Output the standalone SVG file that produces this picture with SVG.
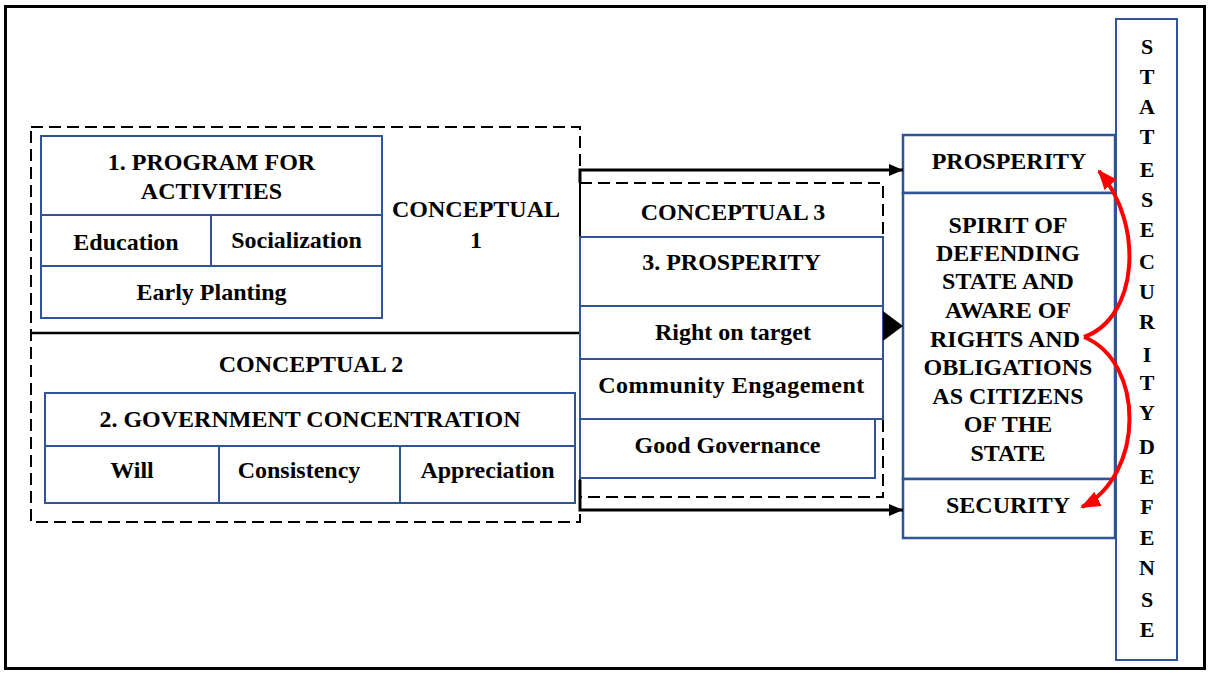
<svg xmlns="http://www.w3.org/2000/svg" width="1211" height="673" viewBox="0 0 1211 673">
<style>
text{font-family:"Liberation Serif","Times New Roman",serif;font-weight:bold;fill:#000;text-anchor:middle}
.t{font-size:24px}
.v{font-size:22px}
.box{fill:#fff;stroke:#2f5597;stroke-width:2}
.rbox{fill:#fff;stroke:#2f5597;stroke-width:2.5}
.dash{fill:none;stroke:#000;stroke-width:2;stroke-dasharray:12 6}
.conn{fill:none;stroke:#000;stroke-width:3}
.red{fill:none;stroke:#ff0000;stroke-width:4}
</style>
<defs>
<marker id="ah" markerWidth="14" markerHeight="12" refX="14" refY="6" orient="auto" markerUnits="userSpaceOnUse">
<path d="M0,0 L14,6 L0,12 Z" fill="#000"/>
</marker>
<marker id="rh" markerWidth="20" markerHeight="16" refX="18" refY="8" orient="auto" markerUnits="userSpaceOnUse">
<path d="M0,0 L20,8 L0,16 Z" fill="#ff0000"/>
</marker>
</defs>
<rect x="0" y="0" width="1211" height="673" fill="#fff"/>
<rect x="5.5" y="6.5" width="1199" height="662" fill="none" stroke="#000" stroke-width="3"/>

<g id="conceptual12">
<rect class="dash" x="31" y="127" width="549" height="395"/>
<line x1="31" y1="333" x2="580" y2="333" stroke="#000" stroke-width="2.5"/>
</g>

<g id="program">
<rect class="box" x="41" y="136" width="341" height="79"/>
<text class="t" x="211.5" y="170">1. PROGRAM FOR</text>
<text class="t" x="211.5" y="199">ACTIVITIES</text>
</g>
<g id="education">
<rect class="box" x="41" y="215" width="170" height="51"/>
<text class="t" x="126" y="250">Education</text>
</g>
<g id="socialization">
<rect class="box" x="211" y="215" width="171" height="51"/>
<text class="t" x="296.5" y="248">Socialization</text>
</g>
<g id="early-planting">
<rect class="box" x="41" y="266" width="341" height="52"/>
<text class="t" x="211.5" y="300">Early Planting</text>
</g>
<g id="conceptual1-label">
<text class="t" x="476" y="217">CONCEPTUAL</text>
<text class="t" x="476" y="248">1</text>
</g>

<g id="conceptual2-label">
<text class="t" x="311" y="372">CONCEPTUAL 2</text>
</g>
<g id="government">
<rect class="box" x="45" y="393" width="530" height="53"/>
<text class="t" x="310" y="427">2. GOVERNMENT CONCENTRATION</text>
</g>
<g id="will">
<rect class="box" x="45" y="446" width="174" height="57"/>
<text class="t" x="132" y="478">Will</text>
</g>
<g id="consistency">
<rect class="box" x="219" y="446" width="181" height="57"/>
<text class="t" x="299" y="478">Consistency</text>
</g>
<g id="appreciation">
<rect class="box" x="400" y="446" width="175" height="57"/>
<text class="t" x="487.5" y="478">Appreciation</text>
</g>

<g id="conceptual3">
<rect class="dash" x="580" y="183" width="303" height="314"/>
<text class="t" x="733" y="220">CONCEPTUAL 3</text>
</g>
<g id="prosperity3">
<rect class="box" x="580" y="237" width="303" height="69"/>
<text class="t" x="731.5" y="270">3. PROSPERITY</text>
</g>
<g id="right-on-target">
<rect class="box" x="580" y="306" width="303" height="53"/>
<text class="t" x="733" y="340">Right on target</text>
</g>
<g id="community">
<rect class="box" x="580" y="359" width="303" height="60"/>
<text class="t" x="731.5" y="393" letter-spacing="0.5">Community Engagement</text>
</g>
<g id="good-governance">
<rect class="box" x="580" y="419" width="295" height="59"/>
<text class="t" x="727.5" y="453">Good Governance</text>
</g>

<g id="prosperity">
<rect class="rbox" x="903" y="135" width="212" height="58"/>
<text class="t" x="1009" y="169">PROSPERITY</text>
</g>
<g id="spirit">
<rect class="rbox" x="903" y="193" width="212" height="286"/>
<text class="t" x="1008" y="233">SPIRIT OF</text>
<text class="t" x="1008" y="261">DEFENDING</text>
<text class="t" x="1008" y="289">STATE AND</text>
<text class="t" x="1008" y="318">AWARE OF</text>
<text class="t" x="1005" y="347">RIGHTS AND</text>
<text class="t" x="1008" y="375">OBLIGATIONS</text>
<text class="t" x="1008" y="404">AS CITIZENS</text>
<text class="t" x="1008" y="432">OF THE</text>
<text class="t" x="1008" y="461">STATE</text>
</g>
<g id="security">
<rect class="rbox" x="903" y="479" width="212" height="59"/>
<text class="t" x="1008" y="513">SECURITY</text>
</g>

<g id="state-security-defense">
<rect class="box" x="1116" y="19" width="61" height="641"/>
<text class="v" x="1147" y="54">S</text>
<text class="v" x="1147" y="84">T</text>
<text class="v" x="1147" y="114">A</text>
<text class="v" x="1147" y="144">T</text>
<text class="v" x="1147" y="177">E</text>
<text class="v" x="1147" y="207">S</text>
<text class="v" x="1147" y="237">E</text>
<text class="v" x="1147" y="269">C</text>
<text class="v" x="1147" y="299">U</text>
<text class="v" x="1147" y="329">R</text>
<text class="v" x="1147" y="362">I</text>
<text class="v" x="1147" y="390">T</text>
<text class="v" x="1147" y="420">Y</text>
<text class="v" x="1147" y="454">D</text>
<text class="v" x="1147" y="484">E</text>
<text class="v" x="1147" y="514">F</text>
<text class="v" x="1147" y="545">E</text>
<text class="v" x="1147" y="575">N</text>
<text class="v" x="1147" y="607">S</text>
<text class="v" x="1147" y="637">E</text>
</g>

<g id="connectors">
<path class="conn" d="M580,183 V170 H903" marker-end="url(#ah)"/>
<path class="conn" d="M580,480 V510 H903" marker-end="url(#ah)"/>
<polygon points="883,311 903,326 883,341" fill="#000"/>
<path class="red" d="M1084,337 C1138,318 1145,225 1099,171" marker-end="url(#rh)"/>
<path class="red" d="M1084,337 C1145,362 1145,475 1082,507" marker-end="url(#rh)"/>
</g>
</svg>
